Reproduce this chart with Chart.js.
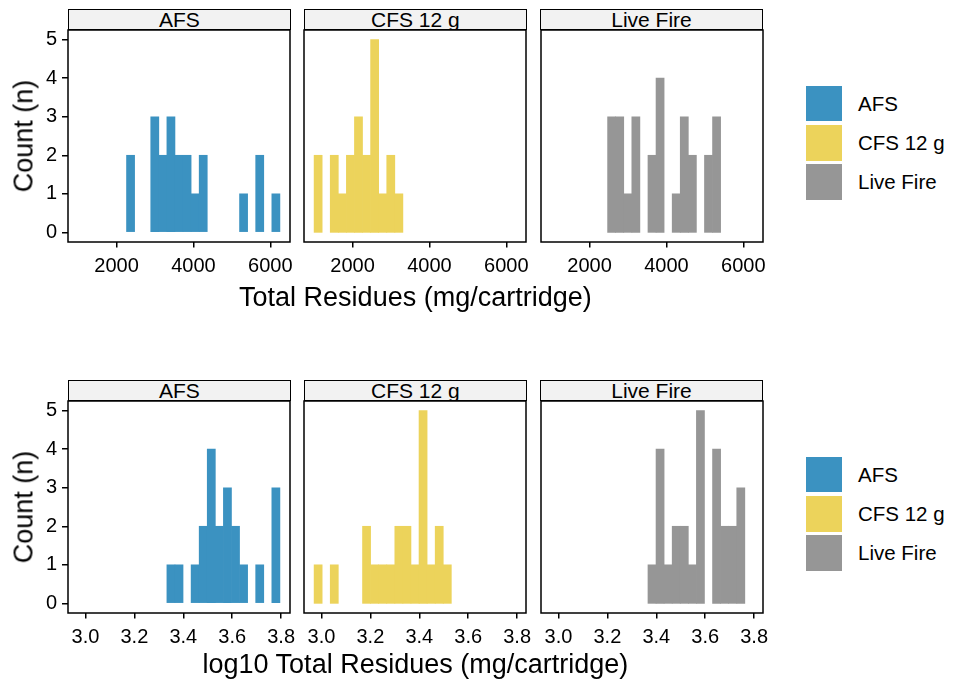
<!DOCTYPE html>
<html>
<head>
<meta charset="utf-8">
<script src="https://cdn.jsdelivr.net/npm/chart.js@4.4.0/dist/chart.umd.min.js"></script>
<style>
  body { margin: 0; width: 956px; height: 685px; background: #fff; position: relative; overflow: hidden;
         font-family: "Liberation Sans", Arial, sans-serif; color: #000; }
  canvas { position: absolute; }
  .strip { position: absolute; box-sizing: border-box; background: #f2f2f2; border: 1.5px solid #000;
           text-align: center; font-size: 21px; line-height: 19px; overflow: hidden; white-space: nowrap; }
  .ytitle { position: absolute; font-size: 27px; white-space: nowrap; transform: translate(-50%, -50%) rotate(-90deg); }
  .xtitle { position: absolute; font-size: 27px; white-space: nowrap; transform: translate(-50%, -50%); }
  .key { position: absolute; width: 35.5px; height: 35.5px; }
  .keylab { position: absolute; font-size: 20.5px; white-space: nowrap; transform: translateY(-50%); }
</style>
</head>
<body>
<script>
// facet names
const groups = ['AFS', 'CFS 12 g', 'Live Fire'];

// top row: histogram of total residues (bin centres, mg/cartridge)
const rawBins = [1105, 1315, 1525, 1735, 1945, 2155, 2365, 2575, 2785, 2995, 3205, 3415, 3625,
                 3835, 4045, 4255, 4465, 4675, 4885, 5095, 5305, 5515, 5725, 5935, 6145];
const rawAfs  = [0, 0, 0, 0, 0, 0, 2, 0, 0, 3, 2, 3, 2, 2, 1, 2, 0, 0, 0, 0, 1, 0, 2, 0, 1];
const rawCfs  = [2, 0, 2, 1, 2, 3, 2, 5, 1, 2, 1, 0, 0, 0, 0, 0, 0, 0, 0, 0, 0, 0, 0, 0, 0];
const rawLive = [0, 0, 0, 0, 0, 0, 0, 3, 3, 1, 3, 0, 2, 4, 0, 1, 3, 2, 0, 2, 3, 0, 0, 0, 0];
const rawRange = [737.5, 6512.5];
const rawTicks = [2000, 4000, 6000];

// bottom row: histogram of log10 total residues (bin centres)
const logBins = [2.9865, 3.0195, 3.0525, 3.0855, 3.1185, 3.1515, 3.1845, 3.2175, 3.2505, 3.2835,
                 3.3165, 3.3495, 3.3825, 3.4155, 3.4485, 3.4815, 3.5145, 3.5475, 3.5805, 3.6135,
                 3.6465, 3.6795, 3.7125, 3.7455, 3.7785];
const logAfs  = [0, 0, 0, 0, 0, 0, 0, 0, 0, 0, 0, 1, 1, 0, 1, 2, 4, 2, 3, 2, 1, 0, 1, 0, 3];
const logCfs  = [1, 0, 1, 0, 0, 0, 2, 1, 1, 1, 2, 2, 1, 5, 1, 2, 1, 0, 0, 0, 0, 0, 0, 0, 0];
const logLive = [0, 0, 0, 0, 0, 0, 0, 0, 0, 0, 0, 0, 1, 4, 1, 2, 2, 1, 5, 0, 4, 2, 2, 3, 0];
const logRange = [2.92875, 3.83625];
const logTicks = [3.0, 3.2, 3.4, 3.6, 3.8];

const countRange = [-0.25, 5.25];
const countTicks = [0, 1, 2, 3, 4, 5];

// styling / layout
const colours = ['#3b92c1', '#ecd35b', '#969696'];
const FONT = '"Liberation Sans", Arial, sans-serif';
const panelLeft = [68.3, 304.4, 540.5];
const rowTop = [29.5, 400.5];
const PW = 222, PH = 212.3;
const YW = 62, XH = 45, PADR = 14;

const rows = [
  { bins: rawBins, series: [rawAfs, rawCfs, rawLive], range: rawRange, ticks: rawTicks,
    fmt: v => String(v), title: 'Total Residues (mg/cartridge)' },
  { bins: logBins, series: [logAfs, logCfs, logLive], range: logRange, ticks: logTicks,
    fmt: v => v.toFixed(1), title: 'log10 Total Residues (mg/cartridge)' }
];

// panel border box
const frame = {
  id: 'frame',
  afterDraw(chart) {
    const a = chart.chartArea, c = chart.ctx;
    c.save();
    c.strokeStyle = '#000';
    c.lineWidth = 1.5;
    c.strokeRect(a.left, a.top, a.right - a.left, a.bottom - a.top);
    c.restore();
  }
};

// stop the scales asking for extra room round the plot
function noPad(s) {
  s.paddingTop = 0; s.paddingBottom = 0; s.paddingLeft = 0; s.paddingRight = 0;
}

function addDiv(cls, text, css) {
  const d = document.createElement('div');
  d.className = cls;
  d.textContent = text;
  Object.assign(d.style, css);
  document.body.appendChild(d);
  return d;
}

rows.forEach((row, r) => {
  const top = rowTop[r];
  groups.forEach((g, i) => {
    const left = panelLeft[i];
    const showY = i === 0;
    const yw = showY ? YW : 0;
    const padL = showY ? 0 : 2;

    // facet strip
    addDiv('strip', g, { left: (left - 0.75) + 'px', top: (top - 21) + 'px',
                         width: (PW + 1.5) + 'px', height: '21.75px' });

    const cv = document.createElement('canvas');
    cv.width = padL + yw + PW + PADR;
    cv.height = 1 + PH + XH;
    cv.style.left = (left - yw - padL) + 'px';
    cv.style.top = (top - 1) + 'px';
    document.body.appendChild(cv);

    new Chart(cv, {
      type: 'bar',
      data: {
        datasets: [{
          label: g,
          data: row.bins.map((b, k) => ({ x: b, y: row.series[i][k] || null })),
          backgroundColor: colours[i],
          borderWidth: 0,
          barPercentage: 1,
          categoryPercentage: 1
        }]
      },
      options: {
        responsive: false,
        animation: false,
        devicePixelRatio: 1,
        layout: { autoPadding: false, padding: { left: padL, right: PADR, top: 1, bottom: 0 } },
        plugins: { legend: { display: false }, tooltip: { enabled: false } },
        scales: {
          x: {
            type: 'linear',
            offset: false,   // bar charts pad linear axes otherwise
            bounds: 'data',
            min: row.range[0], max: row.range[1],
            afterBuildTicks: s => { s.ticks = row.ticks.map(v => ({ value: v })); },
            afterFit: s => { s.height = XH; noPad(s); },
            border: { display: false },
            grid: { offset: false, drawOnChartArea: false, drawTicks: true, tickLength: 5.5, color: '#000', lineWidth: 1.5 },
            ticks: { color: '#000', font: { family: FONT, size: 20 }, padding: 6.5,
                     maxRotation: 0, minRotation: 0, autoSkip: false, callback: v => row.fmt(v) }
          },
          y: {
            display: showY,
            min: countRange[0], max: countRange[1],
            afterBuildTicks: s => { s.ticks = countTicks.map(v => ({ value: v })); },
            afterFit: s => { s.width = yw; noPad(s); },
            border: { display: false },
            grid: { drawOnChartArea: false, drawTicks: true, tickLength: 6, color: '#000', lineWidth: 1.5 },
            ticks: { color: '#000', font: { family: FONT, size: 20 }, padding: 5, autoSkip: false }
          }
        }
      },
      plugins: [frame]
    });
  });

  // axis titles
  addDiv('ytitle', 'Count (n)', { left: '24px', top: (top + PH / 2) + 'px' });
  addDiv('xtitle', row.title, { left: ((panelLeft[0] + panelLeft[2] + PW) / 2) + 'px',
                                top: (r === 0 ? 297 : 664) + 'px' });

  // legend
  const legTop = r === 0 ? 85.7 : 456.7;
  groups.forEach((g, i) => {
    addDiv('key', '', { left: '806px', top: (legTop + i * 39.3) + 'px', background: colours[i] });
    addDiv('keylab', g, { left: '858px', top: (legTop + i * 39.3 + 17.8) + 'px' });
  });
});
</script>
</body>
</html>
